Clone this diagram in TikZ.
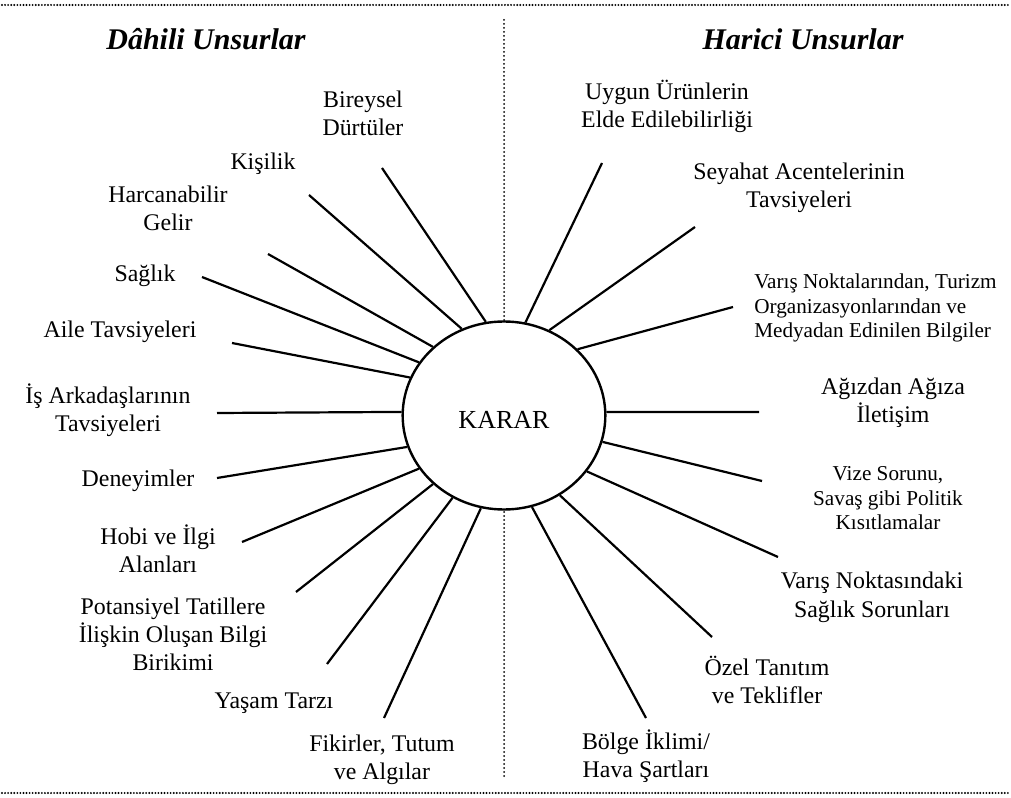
\documentclass[tikz,border=0pt]{standalone}
\usepackage{fontspec}
\setmainfont{Liberation Serif}
\usetikzlibrary{shapes.geometric}
\begin{document}
\begin{tikzpicture}[x=0.75pt,y=-0.75pt,
  % multi-line labels sit on the baseline of their last line
  big/.style={font=\fontsize{17.9}{21}\selectfont, align=center, anchor=base, inner sep=0pt},
  small/.style={font=\fontsize{15.9}{18.5}\selectfont, align=center, anchor=base, inner sep=0pt},
  heading/.style={font=\fontsize{22.5}{27}\selectfont\bfseries\itshape, anchor=base, inner sep=0pt},
  spoke/.style={line width=1.65pt},
  hdots/.style={line width=1.6pt, line cap=round, dash pattern=on 0pt off 2.3pt},
  vdots/.style={line width=1.5pt, line cap=round, dash pattern=on 0pt off 3pt},
  hub/.style={draw, ellipse, line width=1.8pt, fill=white, minimum width=152, minimum height=141, inner sep=0pt,
    font=\fontsize{19.5}{23}\selectfont, text height=20.25pt, text depth=0pt},
]
\useasboundingbox (0,0) rectangle (1011,798);

% frame of dotted rules
\coordinate (tl) at (2,5);   \coordinate (tr) at (1009,5);
\coordinate (bl) at (2,793); \coordinate (br) at (1009,793);
\coordinate (vt) at (504,20); \coordinate (vb) at (504,776);
\draw[hdots] (tl) -- (tr);
\draw[hdots] (bl) -- (br);
\draw[vdots] (vt) -- (vb);

% headings
\node[heading] (hin) at (206,50) {Dâhili Unsurlar};
\node[heading] (hex) at (803,50) {Harici Unsurlar};

% central decision
\node[hub] (karar) at (504,415.5) {KARAR};

% internal factors
\node[big] (i1) at (363,136) {Bireysel\\Dürtüler};
\node[big] (i2) at (263,170) {Kişilik};
\node[big] (i3) at (168,231) {Harcanabilir\\Gelir};
\node[big] (i4) at (145,282) {Sağlık};
\node[big] (i5) at (120,338) {Aile Tavsiyeleri};
\node[big] (i6) at (108,432) {İş Arkadaşlarının\\Tavsiyeleri};
\node[big] (i7) at (138,487) {Deneyimler};
\node[big] (i8) at (158,573) {Hobi ve İlgi\\Alanları};
\node[big] (i9) at (173,670) {Potansiyel Tatillere\\İlişkin Oluşan Bilgi\\Birikimi};
\node[big] (i10) at (274,708) {Yaşam Tarzı};
\node[big] (i11) at (382,779) {Fikirler, Tutum\\ve Algılar};

% external factors
\node[big] (e1) at (667,128) {Uygun Ürünlerin\\Elde Edilebilirliği};
\node[big] (e2) at (799,208) {Seyahat Acentelerinin\\Tavsiyeleri};
\node[small, align=left, anchor=base west] (e3) at (754,338) {Varış Noktalarından, Turizm\\Organizasyonlarından ve\\Medyadan Edinilen Bilgiler};
\node[big] (e4) at (893,423) {Ağızdan Ağıza\\İletişim};
\node[small] (e5) at (888,530) {Vize Sorunu,\\Savaş gibi Politik\\Kısıtlamalar};
\node[big] (e6) at (872,617) {Varış Noktasındaki\\Sağlık Sorunları};
\node[big] (e7) at (767,703) {Özel Tanıtım\\ve Teklifler};
\node[big] (e8) at (646,777) {Bölge İklimi/\\Hava Şartları};

% outer ends of the spokes
\coordinate (si1) at (382,168);
\coordinate (si2) at (309,195);
\coordinate (si3) at (268,254);
\coordinate (si4) at (202,277);
\coordinate (si5) at (232,343);
\coordinate (si6) at (217,413);
\coordinate (si7) at (217,478);
\coordinate (si8) at (242,542);
\coordinate (si9) at (296,592);
\coordinate (si10) at (327,664);
\coordinate (si11) at (384,718);
\coordinate (se1) at (602,163);
\coordinate (se2) at (695,227);
\coordinate (se3) at (733,307);
\coordinate (se4) at (759,412);
\coordinate (se5) at (762,481);
\coordinate (se6) at (778,557);
\coordinate (se7) at (712,637);
\coordinate (se8) at (646,718);

% spokes
\draw[spoke] (si1) -- (karar.101.4);
\draw[spoke] (si2) -- (karar.116);
\draw[spoke] (si3) -- (karar.136.4);
\draw[spoke] (si4) -- (karar.148.3);
\draw[spoke] (si5) -- (karar.158.8);
\draw[spoke] (si6) -- (karar.178.9);
\draw[spoke] (si7) -- (karar.198.8);
\draw[spoke] (si8) -- (karar.212.6);
\draw[spoke] (si9) -- (karar.224.7);
\draw[spoke] (si10) -- (karar.238);
\draw[spoke] (si11) -- (karar.256.3);
\draw[spoke] (se1) -- (karar.77.2);
\draw[spoke] (se2) -- (karar.62.2);
\draw[spoke] (se3) -- (karar.42);
\draw[spoke] (se4) -- (karar.2.6);
\draw[spoke] (se5) -- (karar.-15.5);
\draw[spoke] (se6) -- (karar.-34);
\draw[spoke] (se7) -- (karar.-55);
\draw[spoke] (se8) -- (karar.-73.2);
\end{tikzpicture}
\end{document}
